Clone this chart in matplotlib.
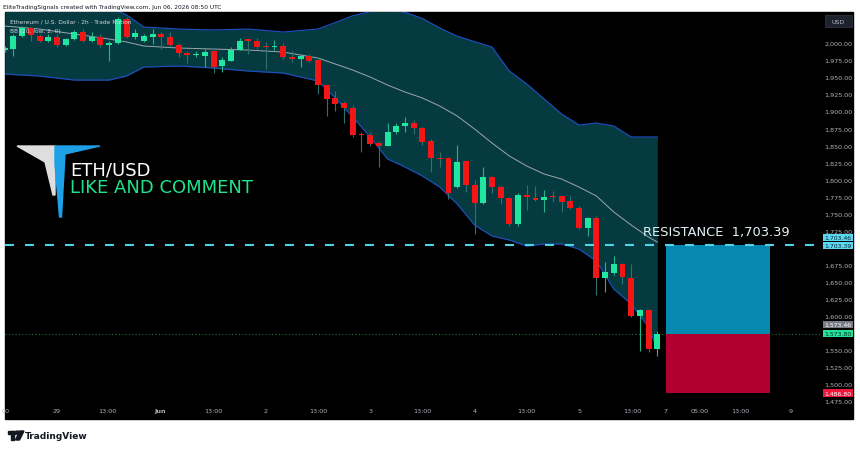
import matplotlib
matplotlib.use('Agg')
import matplotlib.pyplot as plt
from matplotlib.patches import Rectangle, Polygon, Circle
import numpy as np

# ETH/USD 2h candles (oldest first)
opens = [1989.7, 1991.2, 2010.3, 2022.0, 2010.3, 2002.9, 2008.8, 1997.1, 2005.9, 2016.1,
         2002.9, 2008.8, 1997.1, 2000.0, 2035.2, 2008.8, 2002.9, 2008.8, 2013.2, 2008.8,
         1997.1, 1985.3, 1982.4, 1980.9, 1988.3, 1966.3, 1973.6, 1989.7, 2005.9, 2002.9,
         1995.6, 1994.6, 1995.6, 1979.5, 1976.5, 1980.9, 1975.1, 1938.4, 1919.4, 1912.0,
         1904.7, 1866.6, 1865.1, 1853.4, 1849.0, 1869.5, 1878.3, 1882.7, 1875.4, 1856.3,
         1831.4, 1831.4, 1788.8, 1827.0, 1791.8, 1765.4, 1803.5, 1788.8, 1772.7, 1734.6,
         1777.1, 1772.7, 1769.8, 1775.7, 1775.7, 1768.3, 1758.1, 1728.7, 1743.4, 1655.4,
         1662.8, 1675.9, 1655.4, 1599.7, 1608.5, 1551.3]
highs = [1995.6, 2013.2, 2024.9, 2023.5, 2013.0, 2013.2, 2013.0, 2007.3, 2019.0, 2020.5,
         2016.0, 2013.0, 2003.0, 2038.0, 2038.0, 2020.5, 2013.2, 2020.5, 2016.1, 2016.1,
         2000.0, 1988.3, 1988.3, 1991.2, 1989.7, 1979.5, 1994.1, 2007.3, 2005.9, 2007.3,
         2001.5, 2004.4, 2000.0, 1988.3, 1983.9, 1983.9, 1979.5, 1938.4, 1929.6, 1915.0,
         1909.1, 1869.5, 1869.5, 1854.8, 1882.7, 1882.7, 1891.5, 1887.1, 1876.8, 1859.2,
         1840.2, 1832.8, 1850.4, 1827.0, 1799.1, 1818.2, 1805.0, 1790.3, 1774.2, 1780.1,
         1791.8, 1790.3, 1784.4, 1783.0, 1777.1, 1775.7, 1761.0, 1744.9, 1746.3, 1678.9,
         1687.7, 1677.4, 1675.9, 1610.0, 1610.0, 1577.7]
lows = [1986.8, 1980.9, 2008.8, 2002.9, 2001.5, 2001.5, 1994.1, 1995.6, 2004.4, 2001.5,
        2001.5, 1994.1, 1973.6, 1998.5, 2007.3, 2005.9, 2001.5, 1998.5, 1991.2, 1994.1,
        1979.5, 1970.7, 1979.5, 1964.8, 1956.0, 1957.5, 1973.6, 1989.7, 1983.9, 1991.2,
        1961.9, 1989.7, 1976.5, 1972.1, 1964.8, 1972.1, 1925.2, 1893.0, 1900.3, 1882.7,
        1862.2, 1840.2, 1849.0, 1818.2, 1849.0, 1866.6, 1869.5, 1866.6, 1850.4, 1810.8,
        1818.2, 1771.3, 1787.4, 1781.5, 1719.9, 1763.9, 1780.1, 1763.9, 1731.7, 1731.7,
        1755.1, 1768.3, 1752.2, 1766.9, 1752.2, 1756.6, 1727.3, 1717.0, 1630.5, 1634.9,
        1659.8, 1646.6, 1598.2, 1548.4, 1546.9, 1541.0]
closes = [1992.7, 2010.3, 2022.0, 2011.7, 2002.9, 2008.8, 1997.1, 2005.9, 2016.1, 2002.9,
          2008.8, 1997.1, 2000.0, 2035.2, 2008.8, 2014.7, 2010.3, 2013.2, 2008.8, 1997.1,
          1985.3, 1982.4, 1983.9, 1986.8, 1964.8, 1975.1, 1989.7, 2002.9, 2002.9, 1994.1,
          1994.1, 1995.6, 1979.5, 1976.5, 1980.9, 1973.6, 1938.4, 1917.9, 1910.6, 1904.7,
          1865.1, 1865.1, 1851.9, 1849.0, 1869.5, 1878.3, 1882.7, 1875.4, 1854.8, 1831.4,
          1829.9, 1780.1, 1825.5, 1791.8, 1765.4, 1803.5, 1788.8, 1772.7, 1734.6, 1777.1,
          1774.2, 1769.8, 1774.2, 1774.2, 1766.9, 1758.1, 1728.7, 1743.4, 1655.4, 1664.2,
          1675.9, 1656.9, 1599.7, 1608.5, 1551.3, 1573.8]

# Bollinger band BB(20, low, 2, 0), sampled at these candle numbers
band_idx = [0, 4, 8, 12, 14, 16, 20, 24, 28, 32, 36, 38, 40, 42, 44, 46, 48, 50, 52, 54,
            56, 58, 60, 62, 64, 66, 68, 70, 72, 74, 75]
bb_upper = [2061.6, 2061.6, 2061.6, 2052.8, 2041.1, 2023.5, 2020.5, 2019.1, 2020.5, 2016.1,
            2020.5, 2030.0, 2040.0, 2046.0, 2048.0, 2045.0, 2036.0, 2022.0, 2010.0, 2002.0,
            1994.1, 1958.9, 1939.9, 1917.9, 1895.9, 1879.8, 1882.7, 1878.3, 1862.2, 1862.2, 1862.2]
bb_mid = [2024.9, 2020.5, 2013.2, 2005.9, 2001.5, 1995.6, 1992.7, 1991.2, 1989.7, 1986.8,
          1978.0, 1969.2, 1960.4, 1950.1, 1938.4, 1928.2, 1919.4, 1907.6, 1893.0, 1873.9,
          1853.4, 1834.3, 1819.6, 1807.9, 1800.6, 1788.8, 1775.7, 1752.2, 1733.1, 1715.5, 1708.2]
bb_lower = [1954.5, 1951.6, 1945.7, 1945.7, 1951.6, 1964.8, 1966.3, 1963.3, 1958.9, 1956.0,
            1944.3, 1919.4, 1891.5, 1862.2, 1829.9, 1818.2, 1805.0, 1788.8, 1763.9, 1733.1,
            1717.0, 1711.1, 1702.3, 1705.3, 1705.3, 1697.9, 1680.3, 1639.3, 1617.3, 1583.6, 1551.3]

last_price = 1573.80
last_price_alt = 1573.46
resistance = 1703.39
resistance_alt = 1703.46
stop_price = 1486.80
box_start, box_end = 76, 88

# price scale labels (1,700 and 1,575 sit under the price badges)
price_ticks = [p for p in range(1475, 2001, 25) if p not in (1700, 1575)]
time_pos = [0.15, 6.0, 11.8, 17.9, 24.0, 30.0, 36.0, 42.0, 48.0, 54.0, 60.0, 66.1, 72.1,
            75.9, 79.9, 84.5, 90.3]
time_labels = ['00', '29', '13:00', 'Jun', '13:00', '2', '13:00', '3', '13:00', '4',
               '13:00', '5', '13:00', '7', '05:00', '13:00', '9']

UP, DOWN = '#22e6a0', '#f21616'
AXIS_TXT = '#b2b5be'

W, H = 860, 452
fig = plt.figure(figsize=(W / 100, H / 100), dpi=100)
fig.patch.set_facecolor('white')


def rect(x0, y0, x1, y1):
    # pixel box (top-left origin) -> figure fraction
    return [x0 / W, 1 - y1 / H, (x1 - x0) / W, (y1 - y0) / H]


# background layer in pixel units
back = fig.add_axes([0, 0, 1, 1], zorder=0)
back.set_xlim(0, W)
back.set_ylim(H, 0)
back.axis('off')
back.add_patch(Rectangle((5, 13), 848, 407, color='black'))
back.text(3, 7, 'EliteTradingSignals created with TradingView.com, Jun 06, 2026 08:50 UTC',
          fontsize=4.2, color='#131722', va='center', ha='left')
# TradingView footer logo
back.add_patch(Rectangle((8, 432), 7, 3, color='#131722'))
back.add_patch(Rectangle((11, 432), 3.2, 9, color='#131722'))
back.add_patch(Circle((17.2, 433.6), 1.6, color='#131722'))
back.add_patch(Polygon([(19.5, 432), (24, 432), (19.5, 441), (15.5, 441)], color='#131722'))
back.text(25, 437, 'TradingView', fontsize=6.5, fontweight='bold', color='#131722',
          va='center', ha='left')

# main price pane
ax = fig.add_axes(rect(5, 13, 820, 405), zorder=1)
ax.set_facecolor('none')
ax.set_xlim(0.03, 93.7)
ax.set_ylim(1470.7, 2045.5)
for s in ax.spines.values():
    s.set_visible(False)

ax.fill_between(band_idx, bb_lower, bb_upper, color='#053b40', lw=0, zorder=1)
ax.plot(band_idx, bb_upper, color='#1e4db7', lw=0.9, zorder=2)
ax.plot(band_idx, bb_lower, color='#1e4db7', lw=0.9, zorder=2)
ax.plot(band_idx, bb_mid, color='#9ea7aa', lw=0.7, zorder=2)

idx = np.arange(len(opens))
o, h, l, c = (np.array(v) for v in (opens, highs, lows, closes))
up = c >= o
ax.vlines(idx, l, h, colors=np.where(up, '#27b38a', '#2e7270'), lw=0.8, zorder=3)
ax.bar(idx, np.maximum(np.abs(c - o), 1.2), bottom=np.minimum(o, c), width=0.68,
       color=np.where(up, UP, DOWN), lw=0, zorder=4)

ax.axhline(last_price, color='#1b7a3e', lw=0.8, ls=(0, (1, 2)), zorder=2)
ax.axhline(resistance, color='#4fd3e6', lw=1.5, dashes=(4.3, 5.3), zorder=5)
ax.add_patch(Rectangle((box_start, last_price), box_end - box_start, resistance - last_price,
                       color='#0589b0', lw=0, zorder=4))
ax.add_patch(Rectangle((box_start, stop_price), box_end - box_start, last_price - stop_price,
                       color='#b10030', lw=0, zorder=4))
ax.text(73.4, 1724.3, 'RESISTANCE  ' + f'{resistance:,.2f}', fontsize=9.4, color='#e3f2f6',
        va='center', ha='left', zorder=6)

# price scale on the right
ax.yaxis.tick_right()
ax.set_yticks(price_ticks)
ax.set_yticklabels([f'{p:,.2f}' for p in price_ticks])
ax.tick_params(axis='y', length=0, pad=3, labelsize=4.6, labelcolor=AXIS_TXT)
ax.set_xticks(time_pos)
ax.set_xticklabels(time_labels)
ax.tick_params(axis='x', length=0, pad=3, labelsize=4.6, labelcolor=AXIS_TXT)
for t in ax.get_xticklabels():
    if t.get_text() == 'Jun':
        t.set_fontweight('bold')

# price badges on the scale (axes-x, price-y)
yt = ax.get_yaxis_transform()
half = 5.3  # half badge height in price units
badges = [(1714.8, f'{resistance_alt:,.2f}', '#5ad7f0', '#0b2a33'),
          (resistance, f'{resistance:,.2f}', '#5ad7f0', '#0b2a33'),
          (1587.5, f'{last_price_alt:,.2f}', '#787b86', '#ffffff'),
          (last_price, f'{last_price:,.2f}', '#22e39a', '#0b2a1e'),
          (stop_price, f'{stop_price:,.2f}', '#f0163c', '#ffffff')]
for yv, txt, bg, fg in badges:
    ax.add_patch(Rectangle((1.0037, yv - half), 0.0368, 2 * half, transform=yt, fc=bg,
                           ec='none', clip_on=False, zorder=7))
    ax.text(1.022, yv, txt, transform=yt, fontsize=4.4, color=fg, ha='center', va='center',
            clip_on=False, zorder=8)

# foreground overlay: legend text and logo
front = fig.add_axes([0, 0, 1, 1], zorder=2)
front.set_xlim(0, W)
front.set_ylim(H, 0)
front.axis('off')
front.text(10, 21.5, 'Ethereum / U.S. Dollar · 2h · Trade Nation', fontsize=4.2,
           color='#d1d4dc', va='center', ha='left')
front.text(10, 31, 'BB (20, low, 2, 0)', fontsize=4.2, color='#d1d4dc', va='center', ha='left')
front.add_patch(Rectangle((825, 16), 27, 12, fc='#1e222d', ec='#363a45', lw=0.5))
front.text(838.5, 22, 'USD', fontsize=4.5, color=AXIS_TXT, ha='center', va='center')
front.add_patch(Polygon([(17, 147), (55, 147), (55, 196), (53, 196), (45, 163)],
                        color='#dedede'))
front.add_patch(Polygon([(55, 147), (100, 147), (65, 155), (61.5, 218), (59.5, 218), (55, 165)],
                        color='#1ea0e6'))
front.text(70, 171, 'ETH/USD', fontsize=13, color='white', va='center', ha='left')
front.text(70, 188, 'LIKE AND COMMENT', fontsize=13, color='#1de38a', va='center', ha='left')

fig.savefig('out.png', dpi=100, facecolor='white')
